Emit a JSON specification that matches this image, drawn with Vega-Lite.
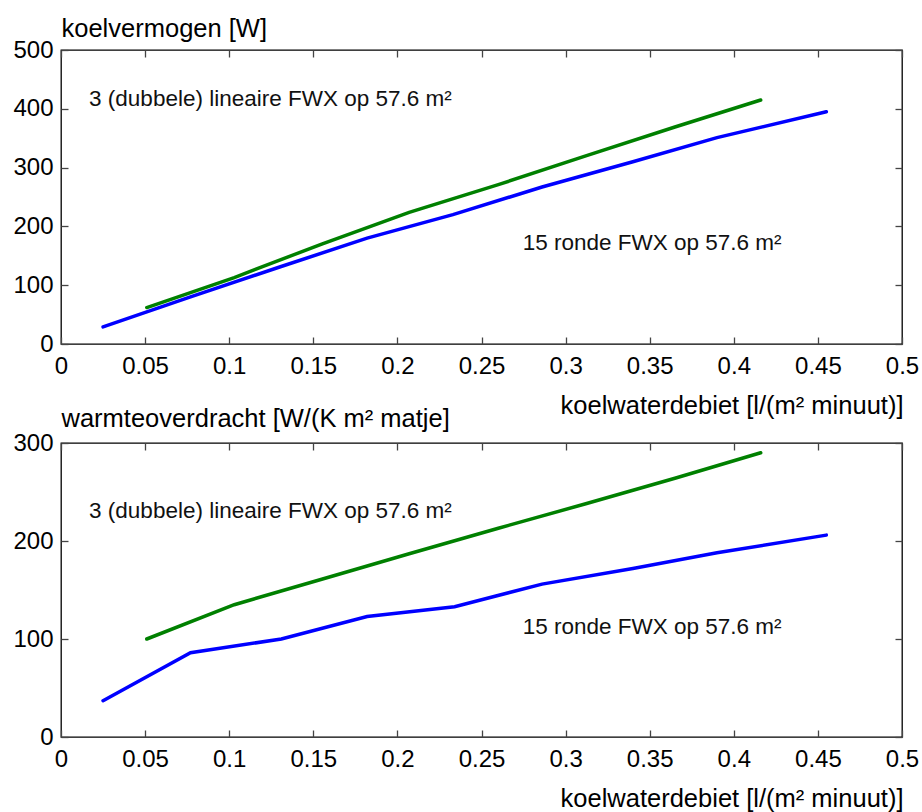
{
  "$schema": "https://vega.github.io/schema/vega-lite/v6.json",
  "padding": {"left": 12, "top": 15, "right": 0, "bottom": 0},
  "background": "white",
  "datasets": {
    "top": [
      {"series": "15 ronde", "x": 0.025, "y": 29},
      {"series": "15 ronde", "x": 0.077, "y": 80},
      {"series": "15 ronde", "x": 0.13, "y": 131},
      {"series": "15 ronde", "x": 0.182, "y": 180},
      {"series": "15 ronde", "x": 0.233, "y": 220},
      {"series": "15 ronde", "x": 0.286, "y": 267},
      {"series": "15 ronde", "x": 0.34, "y": 310},
      {"series": "15 ronde", "x": 0.39, "y": 351},
      {"series": "15 ronde", "x": 0.455, "y": 395},
      {"series": "3 lineaire", "x": 0.051, "y": 62},
      {"series": "3 lineaire", "x": 0.103, "y": 113},
      {"series": "3 lineaire", "x": 0.155, "y": 170},
      {"series": "3 lineaire", "x": 0.207, "y": 224},
      {"series": "3 lineaire", "x": 0.26, "y": 271},
      {"series": "3 lineaire", "x": 0.312, "y": 320},
      {"series": "3 lineaire", "x": 0.365, "y": 369},
      {"series": "3 lineaire", "x": 0.416, "y": 415}
    ],
    "bottom": [
      {"series": "15 ronde", "x": 0.025, "y": 37},
      {"series": "15 ronde", "x": 0.077, "y": 86},
      {"series": "15 ronde", "x": 0.131, "y": 100},
      {"series": "15 ronde", "x": 0.182, "y": 123},
      {"series": "15 ronde", "x": 0.234, "y": 133},
      {"series": "15 ronde", "x": 0.286, "y": 156},
      {"series": "15 ronde", "x": 0.34, "y": 172},
      {"series": "15 ronde", "x": 0.39, "y": 188},
      {"series": "15 ronde", "x": 0.455, "y": 206},
      {"series": "3 lineaire", "x": 0.051, "y": 100},
      {"series": "3 lineaire", "x": 0.103, "y": 135},
      {"series": "3 lineaire", "x": 0.155, "y": 161},
      {"series": "3 lineaire", "x": 0.207, "y": 187},
      {"series": "3 lineaire", "x": 0.26, "y": 213},
      {"series": "3 lineaire", "x": 0.312, "y": 238},
      {"series": "3 lineaire", "x": 0.365, "y": 264},
      {"series": "3 lineaire", "x": 0.416, "y": 290}
    ],
    "notesTop": [
      {"label": "3 (dubbele) lineaire FWX op 57.6 m²", "x": 0.0167, "y": 417},
      {"label": "15 ronde FWX op 57.6 m²", "x": 0.2745, "y": 171}
    ],
    "notesBottom": [
      {"label": "3 (dubbele) lineaire FWX op 57.6 m²", "x": 0.0167, "y": 231},
      {"label": "15 ronde FWX op 57.6 m²", "x": 0.2745, "y": 112}
    ]
  },
  "vconcat": [
    {
      "width": 841,
      "height": 294,
      "layer": [
        {
          "data": {"name": "top"},
          "mark": {"type": "line", "strokeWidth": 3.5, "strokeCap": "round"},
          "encoding": {
            "x": {"field": "x", "type": "quantitative",
              "scale": {"domain": [0, 0.5], "nice": false, "zero": false},
              "axis": {"orient": "bottom", "values": [0, 0.05, 0.1, 0.15, 0.2, 0.25, 0.3, 0.35, 0.4, 0.45, 0.5], "format": "~g",
                "tickSize": -7, "labelPadding": 17, "labelFlush": false, "domain": false, "grid": false,
                "title": "koelwaterdebiet [l/(m² minuut)]", "titleX": 842, "titleY": 61, "titleAlign": "right", "titleBaseline": "middle"}},
            "y": {"field": "y", "type": "quantitative",
              "scale": {"domain": [0, 500], "nice": false},
              "axis": {"orient": "left", "values": [0, 100, 200, 300, 400, 500],
                "tickSize": -7, "labelPadding": 15, "labelFlush": false, "domain": false, "grid": false,
                "title": "koelvermogen [W]", "titleX": 0, "titleY": -22, "titleAngle": 0, "titleAlign": "left", "titleBaseline": "middle"}},
            "color": {"field": "series", "type": "nominal",
              "scale": {"domain": ["15 ronde", "3 lineaire"], "range": ["#0000ff", "#008000"]}, "legend": null}
          }
        },
        {
          "data": {"name": "notesTop"},
          "mark": {"type": "text", "align": "left", "baseline": "middle", "font": "Liberation Sans", "fontSize": 22.5, "color": "#111111"},
          "encoding": {
            "x": {"field": "x", "type": "quantitative",
              "axis": {"orient": "top", "values": [0, 0.05, 0.1, 0.15, 0.2, 0.25, 0.3, 0.35, 0.4, 0.45, 0.5], "labels": false, "tickSize": -7, "domain": false, "grid": false, "title": null}},
            "y": {"field": "y", "type": "quantitative",
              "axis": {"orient": "right", "values": [0, 100, 200, 300, 400, 500], "labels": false, "tickSize": -7, "domain": false, "grid": false, "title": null}},
            "text": {"field": "label"}
          }
        }
      ],
      "resolve": {"axis": {"x": "independent", "y": "independent"}}
    },
    {
      "width": 841,
      "height": 294,
      "layer": [
        {
          "data": {"name": "bottom"},
          "mark": {"type": "line", "strokeWidth": 3.5, "strokeCap": "round"},
          "encoding": {
            "x": {"field": "x", "type": "quantitative",
              "scale": {"domain": [0, 0.5], "nice": false, "zero": false},
              "axis": {"orient": "bottom", "values": [0, 0.05, 0.1, 0.15, 0.2, 0.25, 0.3, 0.35, 0.4, 0.45, 0.5], "format": "~g",
                "tickSize": -7, "labelPadding": 17, "labelFlush": false, "domain": false, "grid": false,
                "title": "koelwaterdebiet [l/(m² minuut)]", "titleX": 842, "titleY": 61, "titleAlign": "right", "titleBaseline": "middle"}},
            "y": {"field": "y", "type": "quantitative",
              "scale": {"domain": [0, 300], "nice": false},
              "axis": {"orient": "left", "values": [0, 100, 200, 300],
                "tickSize": -7, "labelPadding": 15, "labelFlush": false, "domain": false, "grid": false,
                "title": "warmteoverdracht [W/(K m² matje]", "titleX": 0, "titleY": -25, "titleAngle": 0, "titleAlign": "left", "titleBaseline": "middle"}},
            "color": {"field": "series", "type": "nominal",
              "scale": {"domain": ["15 ronde", "3 lineaire"], "range": ["#0000ff", "#008000"]}, "legend": null}
          }
        },
        {
          "data": {"name": "notesBottom"},
          "mark": {"type": "text", "align": "left", "baseline": "middle", "font": "Liberation Sans", "fontSize": 22.5, "color": "#111111"},
          "encoding": {
            "x": {"field": "x", "type": "quantitative",
              "axis": {"orient": "top", "values": [0, 0.05, 0.1, 0.15, 0.2, 0.25, 0.3, 0.35, 0.4, 0.45, 0.5], "labels": false, "tickSize": -7, "domain": false, "grid": false, "title": null}},
            "y": {"field": "y", "type": "quantitative",
              "axis": {"orient": "right", "values": [0, 100, 200, 300], "labels": false, "tickSize": -7, "domain": false, "grid": false, "title": null}},
            "text": {"field": "label"}
          }
        }
      ],
      "resolve": {"axis": {"x": "independent", "y": "independent"}}
    }
  ],
  "spacing": 99,
  "bounds": "flush",
  "config": {
    "view": {"stroke": "#000000", "strokeWidth": 1.3},
    "axis": {
      "labelFont": "Liberation Sans", "labelFontSize": 24, "labelColor": "#000000",
      "titleFont": "Liberation Sans", "titleFontSize": 25.5, "titleFontWeight": "normal", "titleColor": "#000000",
      "tickColor": "#444444", "tickWidth": 1.3
    }
  }
}
